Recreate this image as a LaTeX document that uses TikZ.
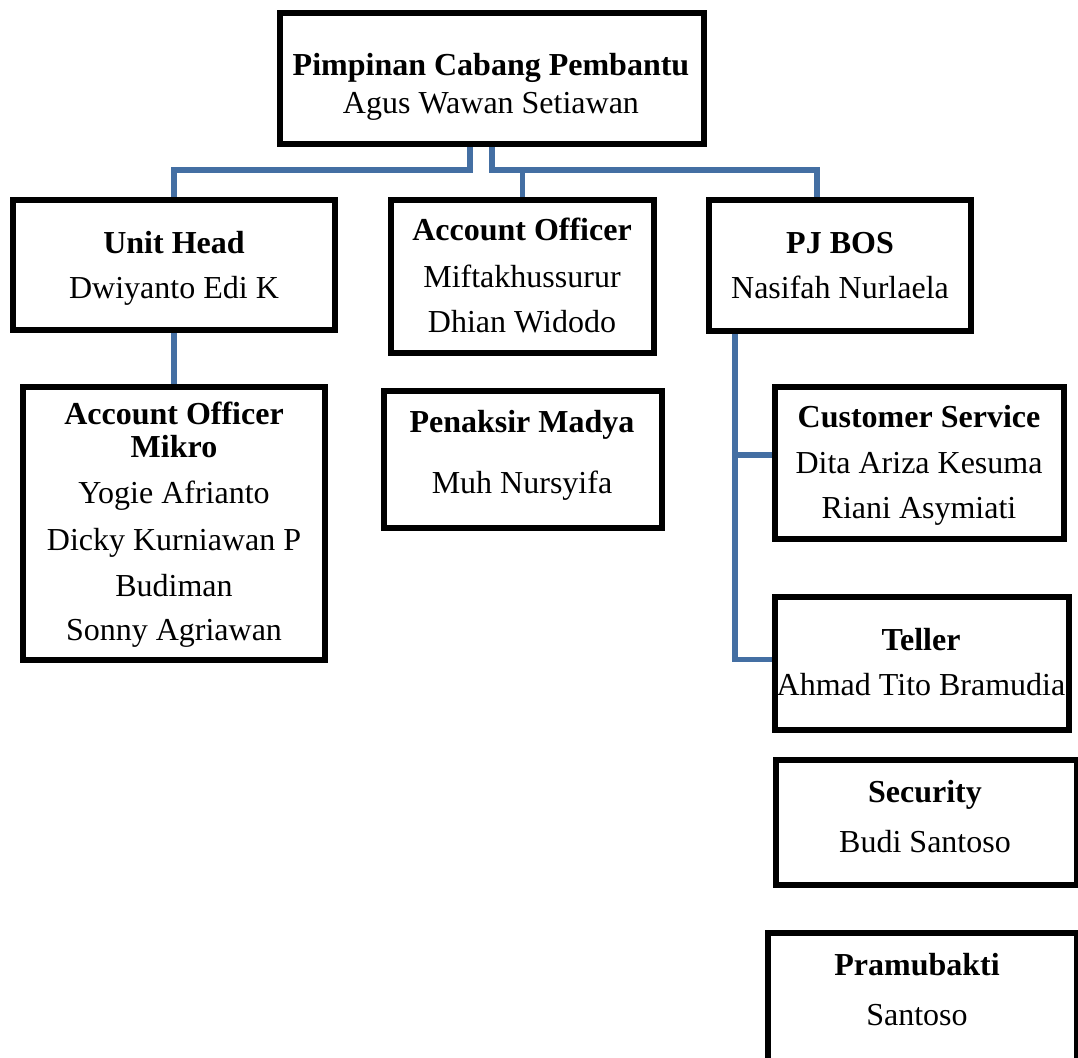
\documentclass[tikz,border=0pt]{standalone}
\usepackage{fontspec}
\setmainfont{Liberation Serif}
\usetikzlibrary{backgrounds}
\definecolor{connblue}{RGB}{68,111,163}
\tikzset{
  box/.style={draw=black, line width=5.5pt, rectangle, inner sep=0pt, fill=none},
  txt/.style={anchor=base, inner sep=0pt, font=\fontsize{32}{38}\selectfont},
  ttl/.style={txt, font=\fontsize{32}{38}\selectfont\bfseries},
  conn/.style={draw=connblue, line width=5.5pt, line cap=butt, line join=miter}
}
\begin{document}
\begin{tikzpicture}[x=1pt,y=-1pt]
\useasboundingbox (0,0) rectangle (1078,1057);
\coordinate (hb) at (0,170);
% boxes (centre, size of the border centre line)
\node[box, minimum width=424pt, minimum height=131pt] (top) at (492,78.5) {};
\node[box, minimum width=322pt, minimum height=130pt] (uh) at (174,265) {};
\node[box, minimum width=263pt, minimum height=153pt] (ao) at (522.5,276.5) {};
\node[box, minimum width=262pt, minimum height=131pt] (pj) at (840,265.5) {};
\node[box, minimum width=302pt, minimum height=273pt] (mk) at (174,523.5) {};
\node[box, minimum width=278pt, minimum height=137pt] (pm) at (523,459.5) {};
\node[box, minimum width=289pt, minimum height=152pt] (cs) at (919.5,463) {};
\node[box, minimum width=294pt, minimum height=133pt] (te) at (922,663.5) {};
\node[box, minimum width=301pt, minimum height=125pt] (se) at (926.5,822.5) {};
\node[box, minimum width=309pt, minimum height=140pt] (pr) at (922.5,1003) {};
% texts
\node[ttl] (top1) at (491,75) {Pimpinan Cabang Pembantu};
\node[txt] (top2) at (491,113) {Agus Wawan Setiawan};
\node[ttl] (uh1) at (174,253) {Unit Head};
\node[txt] (uh2) at (174,298) {Dwiyanto Edi K};
\node[ttl] (ao1) at (522,240) {Account Officer};
\node[txt] (ao2) at (522,287) {Miftakhussurur};
\node[txt] (ao3) at (522,332) {Dhian Widodo};
\node[ttl] (pj1) at (840,253) {PJ BOS};
\node[txt] (pj2) at (840,298) {Nasifah Nurlaela};
\node[ttl] (mk1) at (174,424) {Account Officer};
\node[ttl] (mk2) at (174,457) {Mikro};
\node[txt] (mk3) at (174,503) {Yogie Afrianto};
\node[txt] (mk4) at (174,550) {Dicky Kurniawan P};
\node[txt] (mk5) at (174,596) {Budiman};
\node[txt] (mk6) at (174,640) {Sonny Agriawan};
\node[ttl] (pm1) at (522,432) {Penaksir Madya};
\node[txt] (pm2) at (522,493) {Muh Nursyifa};
\node[ttl] (cs1) at (919,427) {Customer Service};
\node[txt] (cs2) at (919,473) {Dita Ariza Kesuma};
\node[txt] (cs3) at (919,518) {Riani Asymiati};
\node[ttl] (te1) at (921,650) {Teller};
\node[txt] (te2) at (921,695) {Ahmad Tito Bramudia};
\node[ttl] (se1) at (925,802) {Security};
\node[txt] (se2) at (925,852) {Budi Santoso};
\node[ttl] (pr1) at (917,975) {Pramubakti};
\node[txt] (pr2) at (917,1025) {Santoso};
% connector anchor points
\coordinate (tl) at ([xshift=-22pt]top.south);
\coordinate (tr) at (top.south);
\coordinate (pjn) at ([xshift=-23pt]pj.north);
\coordinate (pjs) at ([xshift=-105pt]pj.south);
\coordinate (csw) at ([yshift=8pt]cs.west);
\coordinate (tew) at ([yshift=4pt]te.west);
\begin{scope}[on background layer]
\draw[conn] (tl) -- (tl |- hb) -| (uh.north);
\draw[conn] (tr) -- (tr |- hb) -| (pjn);
\draw[conn] (ao.north |- hb) -- (ao.north);
\draw[conn] (uh.south) -- (mk.north);
\draw[conn] (pjs) |- (tew);
\draw[conn] (pjs |- csw) -- (csw);
\end{scope}
\end{tikzpicture}
\end{document}
